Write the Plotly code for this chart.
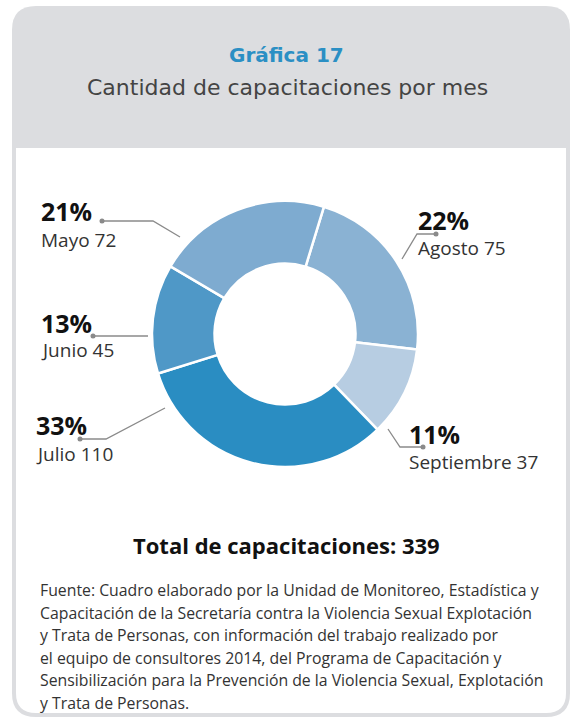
import plotly.graph_objects as go

# ---------------- data ----------------
months = ["Agosto", "Septiembre", "Julio", "Junio", "Mayo"]
counts = [75, 37, 110, 45, 72]
colors = ["#8ab2d3", "#b7cde2", "#2a8dc2", "#4f98c7", "#7eabd0"]
title_text = "Gráfica 17"
subtitle_text = "Cantidad de capacitaciones por mes"
total_label = "Total de capacitaciones"
footer_lines = [
    "Fuente: Cuadro elaborado por la Unidad de Monitoreo, Estadística y",
    "Capacitación de la Secretaría contra la Violencia Sexual Explotación",
    "y Trata de Personas, con información del trabajo realizado por",
    "el equipo de consultores 2014, del Programa de Capacitación y",
    "Sensibilización para la Prevención de la Violencia Sexual, Explotación",
    "y Trata de Personas.",
]

W, H = 572, 717
total = sum(counts)
# percentages rounded with the largest-remainder method (sum = 100)
raw = [c * 100 / total for c in counts]
pcts = [int(v) for v in raw]
order = sorted(range(len(raw)), key=lambda i: raw[i] - pcts[i], reverse=True)
for i in order[: 100 - sum(pcts)]:
    pcts[i] += 1

# ---------------- layout geometry (pixels) ----------------
cx, cy, R = 285, 334, 133
label_pos = {  # label anchor (left x, pct y, name y)
    "Agosto": (416, 220, 248),
    "Septiembre": (407, 434, 462),
    "Julio": (34, 425, 454),
    "Junio": (39, 323, 350),
    "Mayo": (39, 211, 240),
}
leaders = {  # dot, elbow, end
    "Agosto": [(436, 234), (417, 234), (402, 259)],
    "Septiembre": [(423, 447), (400, 447), (388, 429)],
    "Julio": [(80, 439), (106, 439), (165, 408)],
    "Junio": [(93, 336), (120, 336), (148, 336)],
    "Mayo": [(102, 221), (153, 221), (180, 237)],
}

fig = go.Figure()
fig.add_trace(go.Pie(
    labels=months, values=counts, sort=False, direction="clockwise",
    rotation=17, hole=0.53, textinfo="none", hoverinfo="label+value+percent",
    marker=dict(colors=colors, line=dict(color="white", width=2.5)),
    domain=dict(x=[(cx - R) / W, (cx + R) / W], y=[1 - (cy + R) / H, 1 - (cy - R) / H]),
    showlegend=False,
))

shapes = []
# outer card (gray) with rounded corners
r = 24
x0, x1, y0, y1 = 12, 570, 6, 717
shapes.append(dict(type="path", xref="x", yref="y", layer="below",
    path=f"M{x0+r},{y0} L{x1-r},{y0} Q{x1},{y0} {x1},{y0+r} L{x1},{y1-r} Q{x1},{y1} {x1-r},{y1} "
         f"L{x0+r},{y1} Q{x0},{y1} {x0},{y1-r} L{x0},{y0+r} Q{x0},{y0} {x0+r},{y0} Z",
    fillcolor="#dcdde0", line=dict(width=0)))
# inner white panel
r2 = 20
ix0, ix1, iy0, iy1 = 16, 566, 148, 713
shapes.append(dict(type="path", xref="x", yref="y", layer="below",
    path=f"M{ix0},{iy0} L{ix1},{iy0} L{ix1},{iy1-r2} Q{ix1},{iy1} {ix1-r2},{iy1} "
         f"L{ix0+r2},{iy1} Q{ix0},{iy1} {ix0},{iy1-r2} Z",
    fillcolor="white", line=dict(width=0)))

for m in months:
    pts = leaders[m]
    path = "M" + " L".join(f"{x},{y}" for x, y in pts)
    shapes.append(dict(type="path", xref="x", yref="y", path=path,
                       line=dict(color="#8a8a8a", width=1.3)))
    dx, dy = pts[0]
    shapes.append(dict(type="circle", xref="x", yref="y", x0=dx - 2.5, x1=dx + 2.5,
                       y0=dy - 2.5, y1=dy + 2.5, fillcolor="#8a8a8a", line=dict(width=0)))

ann = []
ann.append(dict(x=286, y=55, text=f"<b>{title_text}</b>", showarrow=False, xanchor="center",
                yanchor="middle", font=dict(family="DejaVu Sans", size=20, color="#2b8fc4")))
ann.append(dict(x=287, y=87, text=subtitle_text, showarrow=False, xanchor="center",
                yanchor="middle", font=dict(family="DejaVu Sans", size=22, color="#444444")))
for m, c, p in zip(months, counts, pcts):
    lx, py, ny = label_pos[m]
    ann.append(dict(x=lx, y=py, text=f"<b>{p}%</b>", showarrow=False, xanchor="left",
                    yanchor="middle", font=dict(family="Open Sans", size=25, color="#111111")))
    ann.append(dict(x=lx, y=ny, text=f"{m} {c}", showarrow=False, xanchor="left",
                    yanchor="middle", font=dict(family="Open Sans", size=19, color="#333333")))
ann.append(dict(x=286, y=545, text=f"<b>{total_label}: {total}</b>", showarrow=False,
                xanchor="center", yanchor="middle",
                font=dict(family="Open Sans", size=22, color="#111111")))
for i, line in enumerate(footer_lines):
    ann.append(dict(x=38, y=590 + i * 22.6, text=line, showarrow=False, xanchor="left",
                    yanchor="middle", font=dict(family="Open Sans", size=15.8, color="#333333")))
for a in ann:
    a["xref"] = "x"
    a["yref"] = "y"

fig.update_layout(
    width=W, height=H, margin=dict(l=0, r=0, t=0, b=0),
    paper_bgcolor="white", plot_bgcolor="rgba(0,0,0,0)",
    xaxis=dict(range=[0, W], visible=False, fixedrange=True),
    yaxis=dict(range=[H, 0], visible=False, fixedrange=True),
    shapes=shapes, annotations=ann,
)

fig.write_html("out.html", config={"displayModeBar": False},
               post_script="document.body.style.margin='0';document.body.style.overflow='hidden';")
